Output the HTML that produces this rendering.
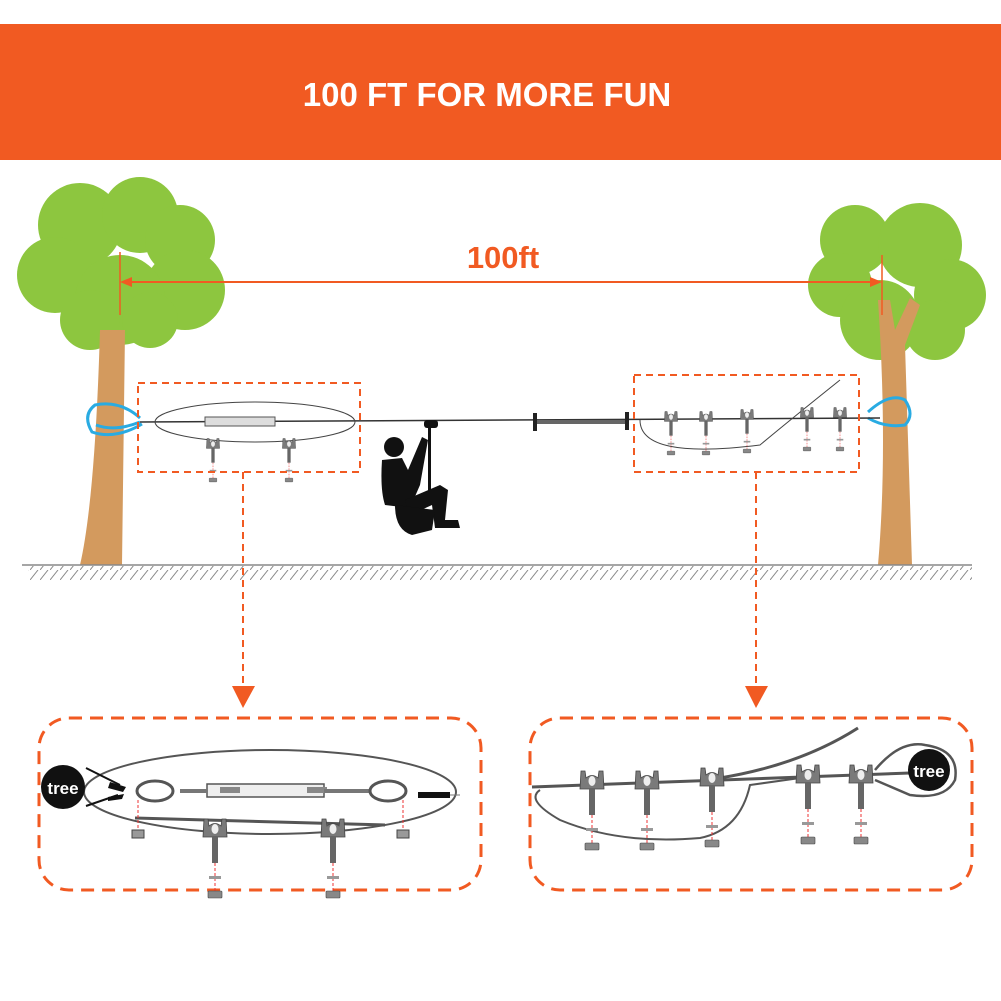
<!DOCTYPE html>
<html><head><meta charset="utf-8"><style>
html,body{margin:0;padding:0;background:#fff}
svg{display:block}
</style></head><body>
<svg width="1001" height="1001" viewBox="0 0 1001 1001" xmlns="http://www.w3.org/2000/svg">
<defs>
<symbol id="clamp" viewBox="-12 -12 24 70" overflow="visible">
  <path d="M-11,-10 L-7,-10 L-6,-3 Q0,-8 6,-3 L7,-10 L11,-10 L12,8 L-12,8 Z" fill="#7a7a7a" stroke="#444" stroke-width="0.8"/>
  <ellipse cx="0" cy="0" rx="3.5" ry="5" fill="#eee"/>
  <rect x="-3" y="8" width="6" height="26" fill="#666"/>
  <line x1="0" y1="34" x2="0" y2="66" stroke="#e33" stroke-width="1" stroke-dasharray="3,2"/>
  <rect x="-6" y="47" width="12" height="3" fill="#999"/>
  <rect x="-7" y="62" width="14" height="7" rx="1" fill="#888" stroke="#444" stroke-width="0.6"/>
</symbol>
<pattern id="hatch" width="10" height="10" patternUnits="userSpaceOnUse">
  <line x1="0" y1="10" x2="8" y2="0" stroke="#888" stroke-width="1"/>
</pattern>
</defs>
<rect x="0" y="24" width="1001" height="136" fill="#F15A22"/>
<text x="487" y="106" font-family="Liberation Sans, sans-serif" font-weight="bold" font-size="33" fill="#fff" text-anchor="middle">100 FT FOR MORE FUN</text>

<!-- left tree -->
<g fill="#8DC63F">
<circle cx="80" cy="225" r="42"/><circle cx="140" cy="215" r="38"/><circle cx="180" cy="240" r="35"/>
<circle cx="55" cy="275" r="38"/><circle cx="185" cy="290" r="40"/><circle cx="120" cy="300" r="45"/><circle cx="90" cy="320" r="30"/><circle cx="150" cy="320" r="28"/>
</g>
<path d="M100,330 L125,330 L122,565 L80,565 Q95,500 100,330Z" fill="#D39A5E"/>
<!-- right tree -->
<g fill="#8DC63F">
<circle cx="855" cy="240" r="35"/><circle cx="920" cy="245" r="42"/><circle cx="950" cy="295" r="36"/>
<circle cx="840" cy="285" r="32"/><circle cx="880" cy="320" r="40"/><circle cx="935" cy="330" r="30"/>
</g>
<path d="M878,300 L890,300 L895,330 L910,298 L920,305 L905,345 L912,565 L878,565 Q888,450 878,300Z" fill="#D39A5E"/>

<!-- ground -->
<line x1="22" y1="565" x2="972" y2="565" stroke="#888" stroke-width="1.5"/>
<rect x="28" y="566" width="944" height="14" fill="url(#hatch)"/>

<!-- 100ft -->
<text x="503" y="268" font-family="Liberation Sans, sans-serif" font-weight="bold" font-size="31" fill="#F15A22" text-anchor="middle">100ft</text>
<line x1="120" y1="252" x2="120" y2="315" stroke="#F15A22" stroke-width="1.5"/>
<line x1="882" y1="255" x2="882" y2="315" stroke="#F15A22" stroke-width="1.5"/>
<line x1="125" y1="282" x2="877" y2="282" stroke="#F15A22" stroke-width="2"/>
<path d="M120,282 L132,277 L132,287Z M882,282 L870,277 L870,287Z" fill="#F15A22"/>

<!-- blue loops -->
<g fill="none" stroke="#29ABE2" stroke-width="3">
<path d="M140,418 Q120,400 95,405 Q82,415 92,432 Q115,440 142,424"/>
<path d="M140,422 Q115,432 96,425"/>
<path d="M868,412 Q890,392 905,400 Q915,415 905,425 Q885,428 868,418"/>
</g>

<!-- zip line -->
<line x1="140" y1="422" x2="880" y2="418" stroke="#333" stroke-width="1.5"/>
<rect x="535" y="420" width="90" height="4" fill="#666"/>
<rect x="533" y="413" width="4" height="18" fill="#222"/><rect x="625" y="412" width="4" height="18" fill="#222"/>
<!-- left detail mini -->
<ellipse cx="255" cy="422" rx="100" ry="20" fill="none" stroke="#444" stroke-width="1"/>
<rect x="205" y="417" width="70" height="9" fill="#ddd" stroke="#555"/>
<g transform="translate(213,444) scale(0.55)"><use href="#clamp" x="-12" y="-12" width="24" height="70"/></g>
<g transform="translate(289,444) scale(0.55)"><use href="#clamp" x="-12" y="-12" width="24" height="70"/></g>
<!-- right detail mini -->
<path d="M640,420 Q640,460 760,445 Q790,420 840,380" fill="none" stroke="#444"/>
<g transform="translate(671,417) scale(0.55)"><use href="#clamp" x="-12" y="-12" width="24" height="70"/></g>
<g transform="translate(706,417) scale(0.55)"><use href="#clamp" x="-12" y="-12" width="24" height="70"/></g>
<g transform="translate(747,415) scale(0.55)"><use href="#clamp" x="-12" y="-12" width="24" height="70"/></g>
<g transform="translate(807,413) scale(0.55)"><use href="#clamp" x="-12" y="-12" width="24" height="70"/></g>
<g transform="translate(840,413) scale(0.55)"><use href="#clamp" x="-12" y="-12" width="24" height="70"/></g>

<!-- rider -->
<g fill="#111">
<rect x="428" y="422" width="3" height="75"/>
<circle cx="394" cy="447" r="10"/>
<path d="M382,460 Q380,490 385,505 L410,508 L420,485 L428,440 L422,437 L408,470 L402,458Z"/>
<path d="M405,500 L440,485 L448,490 L445,520 L458,520 L460,528 L435,528 L432,505 L410,515Z"/>
<path d="M395,505 L435,510 L432,530 L412,535 Q395,530 395,505Z"/>
<rect x="424" y="420" width="14" height="8" rx="3"/>
</g>

<!-- dashed boxes and arrows -->
<g fill="none" stroke="#F15A22" stroke-width="2" stroke-dasharray="7,5">
<rect x="138" y="383" width="222" height="89"/>
<rect x="634" y="375" width="225" height="97"/>
<line x1="243" y1="472" x2="243" y2="685"/>
<line x1="756" y1="472" x2="756" y2="685"/>
</g>
<path d="M232,686 L255,686 L243,708Z M745,686 L768,686 L756,708Z" fill="#F15A22"/>
<g fill="none" stroke="#F15A22" stroke-width="3" stroke-dasharray="13,8">
<rect x="39" y="718" width="442" height="172" rx="30"/>
<rect x="530" y="718" width="442" height="172" rx="30"/>
</g>

<!-- bottom left detail -->
<ellipse cx="270" cy="792" rx="186" ry="42" fill="none" stroke="#555" stroke-width="2"/>
<path d="M135,818 Q270,822 385,825" fill="none" stroke="#555" stroke-width="3"/>
<rect x="207" y="784" width="117" height="13" fill="#eee" stroke="#555" stroke-width="1.5"/>
<rect x="220" y="787" width="20" height="6" fill="#888"/><rect x="307" y="787" width="20" height="6" fill="#888"/>
<line x1="180" y1="791" x2="207" y2="791" stroke="#777" stroke-width="4"/>
<line x1="324" y1="791" x2="370" y2="791" stroke="#777" stroke-width="4"/>
<ellipse cx="155" cy="791" rx="18" ry="10" fill="none" stroke="#555" stroke-width="3"/>
<ellipse cx="388" cy="791" rx="18" ry="10" fill="none" stroke="#555" stroke-width="3"/>
<line x1="138" y1="800" x2="138" y2="830" stroke="#e33" stroke-dasharray="3,2"/>
<line x1="403" y1="800" x2="403" y2="830" stroke="#e33" stroke-dasharray="3,2"/>
<rect x="132" y="830" width="12" height="8" fill="#999" stroke="#444"/><rect x="397" y="830" width="12" height="8" fill="#999" stroke="#444"/>
<path d="M418,795 L450,795" stroke="#111" stroke-width="6"/><line x1="450" y1="795" x2="460" y2="795" stroke="#777"/>
<line x1="86" y1="768" x2="120" y2="785" stroke="#111" stroke-width="2"/>
<line x1="86" y1="806" x2="118" y2="795" stroke="#111" stroke-width="2"/>
<path d="M110,782 L126,787 L123,792 L108,788Z M108,797 L124,794 L122,799 L108,801Z" fill="#111"/>
<circle cx="63" cy="787" r="22" fill="#111"/>
<text x="63" y="794" font-family="Liberation Sans, sans-serif" font-weight="bold" font-size="17" fill="#fff" text-anchor="middle">tree</text>
<g transform="translate(215,829)"><use href="#clamp" x="-12" y="-12" width="24" height="70"/></g>
<g transform="translate(333,829)"><use href="#clamp" x="-12" y="-12" width="24" height="70"/></g>

<!-- bottom right detail -->
<path d="M532,787 L910,773" stroke="#555" stroke-width="3" fill="none"/>
<path d="M540,790 Q525,800 560,820 Q620,845 700,838 Q740,830 750,785 L800,778" fill="none" stroke="#555" stroke-width="2"/>
<path d="M720,778 Q800,765 858,728" fill="none" stroke="#555" stroke-width="3"/>
<path d="M875,770 Q900,740 925,745 Q960,750 955,780 Q945,800 910,795 L875,780" fill="none" stroke="#555" stroke-width="2.5"/>
<circle cx="929" cy="770" r="21" fill="#111"/>
<text x="929" y="777" font-family="Liberation Sans, sans-serif" font-weight="bold" font-size="17" fill="#fff" text-anchor="middle">tree</text>
<g transform="translate(592,781)"><use href="#clamp" x="-12" y="-12" width="24" height="70"/></g>
<g transform="translate(647,781)"><use href="#clamp" x="-12" y="-12" width="24" height="70"/></g>
<g transform="translate(712,778)"><use href="#clamp" x="-12" y="-12" width="24" height="70"/></g>
<g transform="translate(808,775)"><use href="#clamp" x="-12" y="-12" width="24" height="70"/></g>
<g transform="translate(861,775)"><use href="#clamp" x="-12" y="-12" width="24" height="70"/></g>
</svg>
</body></html>
